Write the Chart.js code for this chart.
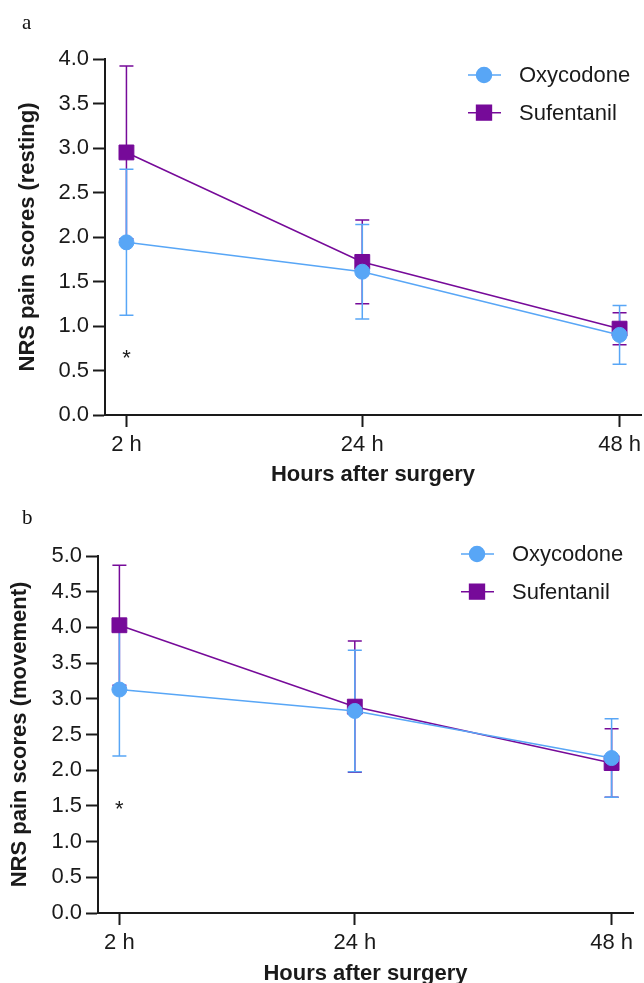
<!DOCTYPE html>
<html>
<head>
<meta charset="utf-8">
<script src="https://cdn.jsdelivr.net/npm/chart.js@4.4.0/dist/chart.umd.min.js"></script>
<style>
  body { margin: 0; background: #fff; overflow: hidden; }
  #wrap { position: relative; width: 644px; height: 983px; overflow: hidden; }
  .panel { position: absolute; left: 0; width: 644px; }
  .tag { position: absolute; left: 22px; font: 21px "Liberation Serif", "Times New Roman", serif; line-height: 21px; color: #111; }
</style>
</head>
<body>
<div id="wrap">
  <div class="panel" style="top:0; height:490px;"><canvas id="chartA"></canvas></div>
  <div class="panel" style="top:490px; height:510px;"><canvas id="chartB"></canvas></div>
  <div class="tag" style="top:12px;">a</div>
  <div class="tag" style="top:507px;">b</div>
</div>
<script>
// time points and their axis labels
var hours = [2, 24, 48];
var hourLabels = ['2 h', '24 h', '48 h'];
var seriesNames = ['Oxycodone', 'Sufentanil'];

// (a) resting, mean and SD
var restOxycodone = [1.94, 1.61, 0.90];
var restOxycodoneSd = [0.82, 0.53, 0.33];
var restSufentanil = [2.95, 1.72, 0.97];
var restSufentanilSd = [0.97, 0.47, 0.18];

// (b) movement, mean and SD
var moveOxycodone = [3.13, 2.83, 2.17];
var moveOxycodoneSd = [0.93, 0.85, 0.55];
var moveSufentanil = [4.03, 2.89, 2.10];
var moveSufentanilSd = [0.84, 0.92, 0.48];

var BLUE = '#58a6f6';
var PURPLE = '#760a99';
var INK = '#1a1a1a';
var FONT = '"Liberation Sans", Arial, sans-serif';

Chart.defaults.font.family = FONT;
Chart.defaults.font.size = 22;
Chart.defaults.color = INK;

// mean +/- SD whiskers, drawn under the lines
var errorBars = {
    id: 'errorBars',
    beforeDatasetsDraw: function(chart) {
        var ctx = chart.ctx, xs = chart.scales.x, ys = chart.scales.y;
        for (var d = chart.data.datasets.length - 1; d >= 0; d--) {
            var ds = chart.data.datasets[d];
            ctx.save();
            ctx.strokeStyle = ds.borderColor;
            ctx.lineWidth = 1.5;
            ds.data.forEach(function(p, i) {
                var x = xs.getPixelForValue(p.x);
                var top = ys.getPixelForValue(p.y + ds.sd[i]);
                var bot = ys.getPixelForValue(p.y - ds.sd[i]);
                ctx.beginPath();
                ctx.moveTo(x, top); ctx.lineTo(x, bot);
                ctx.moveTo(x - 7, top); ctx.lineTo(x + 7, top);
                ctx.moveTo(x - 7, bot); ctx.lineTo(x + 7, bot);
                ctx.stroke();
            });
            ctx.restore();
        }
    }
};

// legend sitting inside the plot, marker on a short line
var insideLegend = {
    id: 'insideLegend',
    afterDraw: function(chart, args, opts) {
        var ctx = chart.ctx;
        chart.data.datasets.forEach(function(ds, i) {
            var cx = opts.x, cy = opts.y + i * opts.rowGap;
            ctx.save();
            ctx.strokeStyle = ds.borderColor;
            ctx.fillStyle = ds.backgroundColor;
            ctx.lineWidth = 1.5;
            ctx.beginPath();
            ctx.moveTo(cx - 16, cy); ctx.lineTo(cx + 17, cy);
            ctx.stroke();
            Chart.helpers.drawPoint(ctx, { pointStyle: ds.pointStyle, radius: ds.pointRadius, borderWidth: 1 }, cx, cy);
            ctx.fillStyle = INK;
            ctx.font = '22px ' + FONT;
            ctx.textBaseline = 'middle';
            ctx.textAlign = 'left';
            ctx.fillText(ds.label, cx + 35, cy + 1);
            ctx.restore();
        });
    }
};

// significance mark
var starMark = {
    id: 'starMark',
    afterDatasetsDraw: function(chart, args, opts) {
        var ctx = chart.ctx;
        var x = chart.scales.x.getPixelForValue(opts.x);
        var y = chart.scales.y.getPixelForValue(opts.y);
        ctx.save();
        ctx.fillStyle = INK;
        ctx.font = '22px ' + FONT;
        ctx.textAlign = 'center';
        ctx.textBaseline = 'alphabetic';
        ctx.fillText('*', x, y + 12.5);
        ctx.restore();
    }
};

function points(values) {
    return values.map(function(v, i) { return { x: hours[i], y: v }; });
}

function makeChart(id, oxy, oxySd, suf, sufSd, cfg) {
    return new Chart(document.getElementById(id).getContext('2d'), {
        type: 'line',
        data: {
            datasets: [{
                label: seriesNames[0],
                data: points(oxy),
                sd: oxySd,
                borderColor: BLUE,
                backgroundColor: BLUE,
                borderWidth: 1.5,
                pointStyle: 'circle',
                pointRadius: 7.5,
                pointBorderWidth: 1,
                tension: 0
            }, {
                label: seriesNames[1],
                data: points(suf),
                sd: sufSd,
                borderColor: PURPLE,
                backgroundColor: PURPLE,
                borderWidth: 1.5,
                pointStyle: 'rect',
                pointRadius: 10.5,
                pointBorderWidth: 1,
                tension: 0
            }]
        },
        options: {
            responsive: true,
            maintainAspectRatio: false,
            animation: false,
            clip: false,
            layout: {
                autoPadding: false,
                padding: { top: cfg.top, right: cfg.right, left: 0, bottom: 0 }
            },
            scales: {
                x: {
                    type: 'linear',
                    min: 0,
                    max: 50,
                    afterFit: function(s) {
                        s.height = cfg.xHeight;
                        s.paddingLeft = 0;
                        s.paddingRight = 0;
                    },
                    afterBuildTicks: function(s) {
                        s.ticks = hours.map(function(h) { return { value: h }; });
                    },
                    border: { display: true, color: INK, width: 2 },
                    grid: { display: true, drawOnChartArea: false, drawTicks: true, tickLength: 12, tickWidth: 2, tickColor: INK },
                    ticks: {
                        padding: 5,
                        maxRotation: 0,
                        callback: function(v) { return hourLabels[hours.indexOf(v)]; }
                    },
                    title: {
                        display: true,
                        text: 'Hours after surgery',
                        font: { weight: 'bold', size: 22 },
                        padding: { top: 0, bottom: cfg.xTitlePad }
                    }
                },
                y: {
                    min: 0,
                    max: cfg.yMax,
                    afterFit: function(s) { s.width = cfg.yWidth; },
                    border: { display: true, color: INK, width: 2 },
                    grid: { display: true, drawOnChartArea: false, drawTicks: true, tickLength: 12, tickWidth: 2, tickColor: INK },
                    ticks: {
                        stepSize: 0.5,
                        padding: 4,
                        callback: function(v) { return v.toFixed(1); }
                    },
                    title: {
                        display: true,
                        text: cfg.yTitle,
                        font: { weight: 'bold', size: 22 },
                        padding: { top: cfg.yTitlePad, bottom: 0 }
                    }
                }
            },
            plugins: {
                legend: { display: false },
                tooltip: { enabled: false },
                insideLegend: cfg.legend,
                starMark: cfg.star
            }
        },
        plugins: [errorBars, insideLegend, starMark]
    });
}

makeChart('chartA', restOxycodone, restOxycodoneSd, restSufentanil, restSufentanilSd, {
    yMax: 4,
    yTitle: 'NRS pain scores (resting)',
    top: 59, right: 3, yWidth: 105, xHeight: 75,
    xTitlePad: 2, yTitlePad: 15,
    legend: { x: 484, y: 75, rowGap: 37.7 },
    star: { x: 2, y: 0.70 }
});

makeChart('chartB', moveOxycodone, moveOxycodoneSd, moveSufentanil, moveSufentanilSd, {
    yMax: 5,
    yTitle: 'NRS pain scores (movement)',
    top: 66, right: 11, yWidth: 98, xHeight: 87,
    xTitlePad: 13, yTitlePad: 7,
    legend: { x: 477, y: 64, rowGap: 37.7 },
    star: { x: 2, y: 1.53 }
});
</script>
</body>
</html>
